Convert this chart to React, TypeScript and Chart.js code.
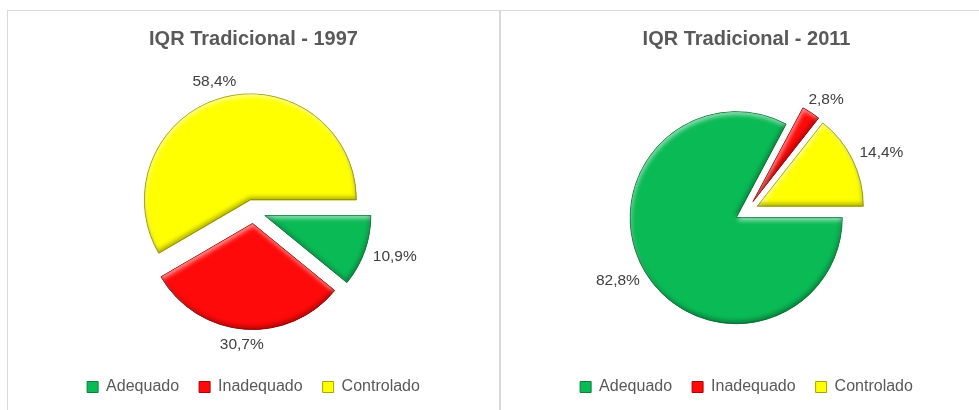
import React, { useEffect, useRef } from 'react';
import { Chart, registerables } from 'chart.js';

Chart.register(...registerables);

const categories = ['Adequado', 'Inadequado', 'Controlado'];
const values1997 = [10.9, 30.7, 58.4];
const values2011 = [82.8, 2.8, 14.4];
const title1997 = 'IQR Tradicional - 1997';
const title2011 = 'IQR Tradicional - 2011';

const FILL = ['#0ABA55', '#FF0A0A', '#FFFF00'];
const EDGE = ['#06803A', '#B00000', '#A6A600'];
const EXPLODE = 12;
const RADIUS = 106;
const LABEL_GAP = 10;
const FONT = "'Liberation Sans', Arial, sans-serif";

function slicePath(ctx: CanvasRenderingContext2D, a: any) {
  ctx.beginPath();
  ctx.moveTo(a.x, a.y);
  ctx.arc(a.x, a.y, a.outerRadius, a.startAngle, a.endAngle);
  ctx.closePath();
}

const piePlugin = {
  id: 'explodedPie',
  beforeDatasetDraw(chart: any, args: any) {
    const ctx: CanvasRenderingContext2D = chart.ctx;
    args.meta.data.forEach((arc: any, i: number) => {
      const mid = (arc.startAngle + arc.endAngle) / 2;
      ctx.save();
      ctx.translate(Math.cos(mid) * EXPLODE, Math.sin(mid) * EXPLODE);
      arc.draw(ctx);
      // bevel-like shading
      ctx.save();
      slicePath(ctx, arc);
      ctx.clip();
      ctx.beginPath();
      ctx.rect(-3000, -3000, 6000, 6000);
      ctx.moveTo(arc.x, arc.y);
      ctx.arc(arc.x, arc.y, arc.outerRadius, arc.startAngle, arc.endAngle);
      ctx.closePath();
      ctx.fillStyle = EDGE[i];
      ctx.shadowBlur = 4;
      ctx.shadowColor = 'rgba(255,255,255,0.55)';
      ctx.shadowOffsetX = 1;
      ctx.shadowOffsetY = 3;
      ctx.fill('evenodd');
      ctx.shadowColor = 'rgba(0,0,0,0.3)';
      ctx.shadowOffsetX = -1;
      ctx.shadowOffsetY = -3;
      ctx.fill('evenodd');
      ctx.restore();
      ctx.restore();
    });
    return false;
  },
  afterDatasetsDraw(chart: any) {
    const ctx: CanvasRenderingContext2D = chart.ctx;
    const meta = chart.getDatasetMeta(0);
    const data: number[] = chart.data.datasets[0].data;
    ctx.save();
    ctx.font = `15.5px ${FONT}`;
    ctx.fillStyle = '#404040';
    ctx.textAlign = 'center';
    ctx.textBaseline = 'middle';
    meta.data.forEach((arc: any, i: number) => {
      const mid = (arc.startAngle + arc.endAngle) / 2;
      const dx = Math.cos(mid);
      const dy = Math.sin(mid);
      const cx = arc.x + dx * EXPLODE;
      const cy = arc.y + dy * EXPLODE;
      const text = data[i].toFixed(1).replace('.', ',') + '%';
      const w = ctx.measureText(text).width;
      const h = 12;
      const px = cx + dx * (arc.outerRadius + LABEL_GAP) + (dx * w) / 2;
      const py = cy + dy * (arc.outerRadius + LABEL_GAP) + (dy * h) / 2;
      ctx.fillText(text, px, py);
    });
    ctx.restore();
  },
};

function PieChart({ title, values }: { title: string; values: number[] }) {
  const ref = useRef<HTMLCanvasElement | null>(null);
  useEffect(() => {
    const chart = new Chart(ref.current as HTMLCanvasElement, {
      type: 'pie',
      data: {
        labels: categories,
        datasets: [
          {
            data: values,
            backgroundColor: FILL,
            borderColor: EDGE,
            borderWidth: 1,
            radius: RADIUS,
          } as any,
        ],
      },
      options: {
        animation: false,
        responsive: false,
        rotation: 90,
        layout: { padding: { top: 0, bottom: 5, left: 0, right: 0 } },
        plugins: {
          title: {
            display: true,
            text: title,
            color: '#595959',
            font: { family: FONT, size: 20, weight: 'bold' },
            padding: { top: 16, bottom: 13 },
          },
          legend: {
            position: 'bottom',
            labels: {
              boxWidth: 11,
              boxHeight: 11,
              padding: 20,
              color: '#595959',
              font: { family: FONT, size: 16 },
            },
          },
          tooltip: { enabled: false },
        },
      } as any,
      plugins: [piePlugin as any],
    });
    return () => chart.destroy();
  }, [title, values]);
  return <canvas ref={ref} width={491} height={399} style={{ display: 'block' }} />;
}

export default function App() {
  const border = '1px solid #D9D9D9';
  return (
    <div
      style={{
        position: 'absolute',
        left: 0,
        top: 0,
        width: 979,
        height: 410,
        overflow: 'hidden',
        background: '#fff',
      }}
    >
      <div
        style={{
          position: 'absolute',
          left: 7,
          top: 10,
          width: 491,
          height: 399,
          borderLeft: border,
          borderTop: border,
          borderRight: border,
        }}
      >
        <PieChart title={title1997} values={values1997} />
      </div>
      <div
        style={{
          position: 'absolute',
          left: 500,
          top: 10,
          width: 491,
          height: 399,
          borderLeft: border,
          borderTop: border,
        }}
      >
        <PieChart title={title2011} values={values2011} />
      </div>
    </div>
  );
}
